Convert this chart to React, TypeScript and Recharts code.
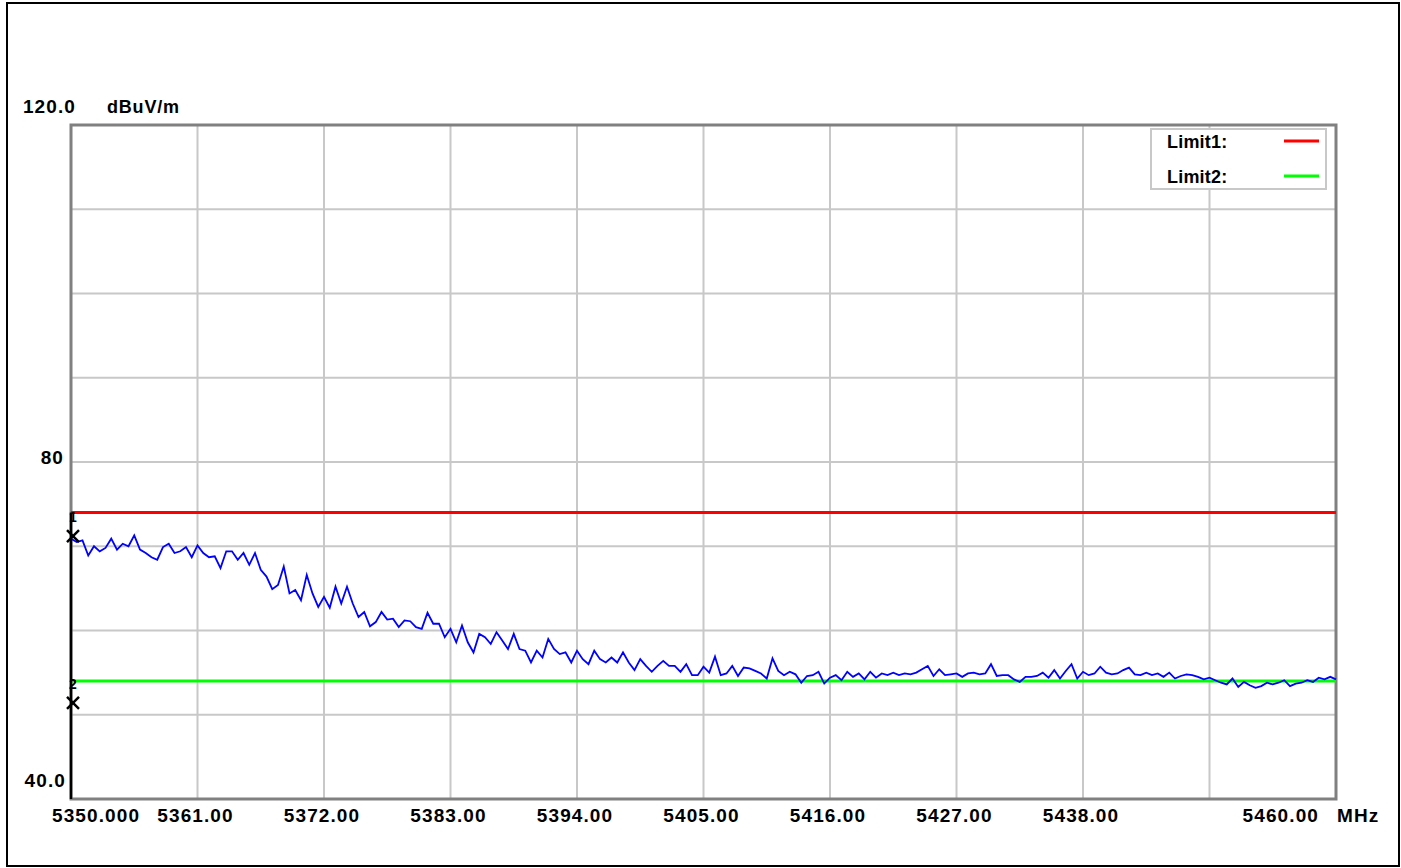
import React from 'react';
import {
  LineChart,
  Line,
  XAxis,
  YAxis,
  CartesianGrid,
  ReferenceLine,
  ReferenceArea,
  ReferenceDot,
  Legend,
} from 'recharts';

// Sweep definition
const START_MHZ = 5350;
const STEP_MHZ = 0.5;

const LEVELS = [
  70.9, 70.5, 70.7, 68.9, 70.0, 69.4, 69.8, 70.9, 69.6, 70.3,
  70.0, 71.3, 69.6, 69.2, 68.7, 68.4, 69.9, 70.3, 69.2, 69.4,
  69.9, 68.7, 70.1, 69.2, 68.7, 68.8, 67.4, 69.4, 69.4, 68.4,
  69.2, 67.8, 69.2, 67.2, 66.4, 64.9, 65.4, 67.6, 64.4, 64.8,
  63.6, 66.6, 64.4, 62.8, 64.0, 62.7, 65.2, 63.2, 65.2, 63.2,
  61.6, 62.2, 60.5, 61.0, 62.2, 61.3, 61.4, 60.4, 61.2, 61.1,
  60.4, 60.2, 62.1, 60.8, 60.8, 59.2, 60.2, 58.6, 60.6, 58.6,
  57.4, 59.6, 59.2, 58.4, 59.8, 58.8, 57.8, 59.6, 57.8, 57.6,
  56.2, 57.6, 56.8, 59.0, 57.8, 57.2, 57.4, 56.2, 57.6, 56.6,
  56.0, 57.6, 56.6, 56.2, 56.8, 56.2, 57.4, 56.2, 55.3, 56.6,
  55.8, 55.1, 55.8, 56.4, 55.8, 55.8, 55.1, 56.0, 54.7, 54.7,
  55.7, 55.0, 56.9, 54.7, 54.9, 55.8, 54.6, 55.6, 55.5, 55.2,
  54.9, 54.3, 56.7, 55.2, 54.7, 55.1, 54.8, 53.8, 54.6, 54.7,
  55.1, 53.7, 54.4, 54.7, 54.1, 55.1, 54.5, 54.9, 54.2, 55.1,
  54.4, 54.9, 54.7, 55.0, 54.7, 54.9, 54.8, 55.0, 55.4, 55.8,
  54.6, 55.4, 54.7, 54.8, 54.9, 54.5, 54.9, 55.0, 54.8, 54.9,
  56.0, 54.6, 54.7, 54.7, 54.2, 53.9, 54.5, 54.5, 54.6, 55.0,
  54.4, 55.3, 54.3, 55.2, 56.0, 54.3, 55.1, 54.7, 54.9, 55.7,
  55.0, 54.8, 54.9, 55.3, 55.6, 54.8, 54.7, 55.0, 54.7, 54.9,
  54.5, 55.0, 54.3, 54.6, 54.8, 54.7, 54.5, 54.2, 54.4, 54.1,
  53.8, 53.6, 54.3, 53.3, 53.9, 53.5, 53.2, 53.4, 53.8, 53.6,
  53.8, 54.1, 53.4, 53.7, 53.8, 54.1, 53.9, 54.4, 54.2, 54.5,
  54.2,
];

const X_TICKS = [5350, 5361, 5372, 5383, 5394, 5405, 5416, 5427, 5438, 5449, 5460];
const X_TICK_LABELS = ['5350.000', '5361.00', '5372.00', '5383.00', '5394.00', '5405.00', '5416.00', '5427.00', '5438.00', '', '5460.00'];
const X_UNIT = 'MHz';

const Y_TICKS = [40, 50, 60, 70, 80, 90, 100, 110, 120];
const Y_LABELED = [120, 80, 40];
const Y_LABEL_TEXT = ['120.0', '80', '40.0'];
const Y_UNIT = 'dBuV/m';

const LIMIT1 = 74;
const LIMIT2 = 54;
const LEGEND_NAMES = ['Limit1:', 'Limit2:'];
const LEGEND_COLORS = ['#ff0000', '#00ff00'];

const MARKER_NAMES = ['1', '2'];
const MARKER_FREQS = [5350, 5350];
const MARKER_LEVELS = [71.2, 51.4];

const data = LEVELS.map((level, i) => ({ freq: START_MHZ + i * STEP_MHZ, level }));

const FONT = '"Liberation Sans", Arial, sans-serif';
const FS = 19;
const LS = 1.1;

const XTick = (props: any) => {
  const { x, y, index } = props;
  const label = X_TICK_LABELS[index] ?? '';
  const last = index === X_TICKS.length - 1;
  const first = index === 0;
  const anchor = first ? 'start' : last ? 'end' : 'middle';
  const tx = first ? x - 19 : last ? x - 17 : x - 2;
  return (
    <g>
      <text x={tx} y={y + 23} textAnchor={anchor} fontFamily={FONT} fontWeight="bold" fontSize={FS} letterSpacing={LS} fill="#000">
        {label}
      </text>
      {last ? (
        <text x={x + 1} y={y + 23} textAnchor="start" fontFamily={FONT} fontWeight="bold" fontSize={FS} letterSpacing={LS} fill="#000">
          {X_UNIT}
        </text>
      ) : null}
    </g>
  );
};

const YTick = (props: any) => {
  const { x, y, payload } = props;
  const idx = Y_LABELED.indexOf(payload.value);
  if (idx < 0) return <g />;
  const text = Y_LABEL_TEXT[idx];
  const isMid = payload.value === 80;
  const rx = payload.value === 120 ? x + 5 : isMid ? x - 7 : x - 5;
  const by = isMid ? y + 2 : y - 12;
  return (
    <g>
      <text x={rx} y={by} textAnchor="end" fontFamily={FONT} fontWeight="bold" fontSize={FS} letterSpacing={LS} fill="#000">
        {text}
      </text>
      {payload.value === 120 ? (
        <text x={x + 36} y={by} textAnchor="start" fontFamily={FONT} fontWeight="bold" fontSize={18} letterSpacing={0.8} fill="#000">
          {Y_UNIT}
        </text>
      ) : null}
    </g>
  );
};

const LegendBox = () => (
  <svg width={177} height={62} style={{ display: 'block' }}>
    <rect x={1} y={1} width={175} height={60} fill="#ffffff" stroke="#c8c8c8" strokeWidth={2} />
    {LEGEND_NAMES.map((name, i) => (
      <g key={name}>
        <text x={17} y={20 + i * 35} fontFamily={FONT} fontWeight="bold" fontSize={18} letterSpacing={0.2} fill="#000">
          {name}
        </text>
        <line x1={134} x2={169} y1={13 + i * 35} y2={13 + i * 35} stroke={LEGEND_COLORS[i]} strokeWidth={3} />
      </g>
    ))}
  </svg>
);

const markerShape = (name: string) => (props: any) => {
  const { cx, cy } = props;
  const mx = cx + 2;
  return (
    <g>
      <line x1={mx - 6} y1={cy - 6} x2={mx + 6} y2={cy + 6} stroke="#000" strokeWidth={2.5} />
      <line x1={mx - 6} y1={cy + 6} x2={mx + 6} y2={cy - 6} stroke="#000" strokeWidth={2.5} />
      <text x={mx} y={cy - 14} textAnchor="middle" fontFamily={FONT} fontWeight="bold" fontSize={14} fill="#000">
        {name}
      </text>
    </g>
  );
};

export default function App() {
  return (
    <div style={{ position: 'absolute', left: 0, top: 0, width: 1401, height: 868, background: '#ffffff', overflow: 'hidden' }}>
      <div
        style={{
          position: 'absolute',
          left: 6,
          top: 2,
          width: 1394,
          height: 865,
          border: '2px solid #000',
          boxSizing: 'border-box',
        }}
      />
      <div style={{ position: 'absolute', left: 0, top: 0 }}>
        <LineChart width={1401} height={868} data={data} margin={{ top: 125, right: 65, bottom: 0, left: 0 }}>
          <CartesianGrid stroke="#c8c8c8" strokeWidth={2} />
          <XAxis
            dataKey="freq"
            type="number"
            domain={[5350, 5460]}
            ticks={X_TICKS}
            interval={0}
            height={69}
            axisLine={false}
            tickLine={false}
            tickSize={0}
            tickMargin={0}
            tick={XTick}
          />
          <YAxis
            type="number"
            domain={[40, 120]}
            ticks={Y_TICKS}
            interval={0}
            width={71}
            axisLine={false}
            tickLine={false}
            tickSize={0}
            tickMargin={0}
            tick={YTick}
          />
          <ReferenceArea x1={5350} x2={5460} y1={40} y2={120} fill="none" stroke="#808080" strokeWidth={3} />
          <ReferenceLine y={LIMIT1} stroke={LEGEND_COLORS[0]} strokeWidth={3} />
          <ReferenceLine y={LIMIT2} stroke={LEGEND_COLORS[1]} strokeWidth={3} />
          <Line
            type="linear"
            dataKey="level"
            stroke="#0000ff"
            strokeWidth={1.8}
            dot={false}
            isAnimationActive={false}
          />
          <ReferenceLine
            segment={[
              { x: 5350, y: LIMIT1 },
              { x: 5350, y: 40 },
            ]}
            stroke="#000"
            strokeWidth={2.5}
          />
          {MARKER_NAMES.map((name, i) => (
            <ReferenceDot
              key={name}
              x={MARKER_FREQS[i]}
              y={MARKER_LEVELS[i]}
              r={6}
              shape={markerShape(name)}
            />
          ))}
          <Legend
            layout="horizontal"
            verticalAlign="middle"
            align="center"
            wrapperStyle={{ position: 'absolute', left: 1150, top: 128, width: 177, height: 62 }}
            content={() => <LegendBox />}
          />
        </LineChart>
      </div>
    </div>
  );
}
